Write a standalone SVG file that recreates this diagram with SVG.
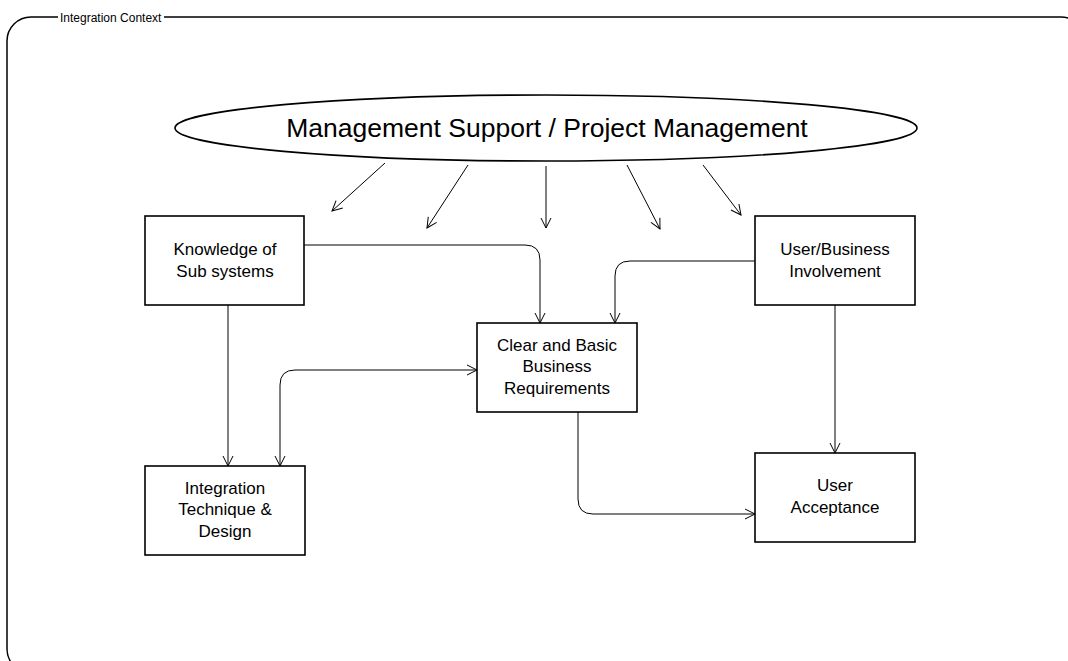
<svg xmlns="http://www.w3.org/2000/svg" width="1068" height="661" viewBox="0 0 1068 661">
<defs>
<marker id="arr" markerUnits="userSpaceOnUse" markerWidth="12" markerHeight="12" refX="10" refY="5" orient="auto-start-reverse" overflow="visible">
<path d="M0,0 L10,5 L0,10" fill="none" stroke="#000" stroke-width="1"/>
</marker>
</defs>
<style>
.box{fill:#fff;stroke:#000;stroke-width:1.6}
.t{font-family:"Liberation Sans",Arial,sans-serif;font-size:17px;fill:#000;text-anchor:middle}
.c{fill:none;stroke:#000;stroke-width:1}
</style>
<rect width="1068" height="661" fill="#fff"/>
<g id="frame">
<rect x="7" y="17" width="1078" height="656" rx="24" ry="24" fill="none" stroke="#000" stroke-width="1.5"/>
<rect x="58" y="8" width="106" height="18" fill="#fff"/>
<text x="60" y="21.5" style="font-family:'Liberation Sans',Arial,sans-serif;font-size:12px">Integration Context</text>
</g>
<g id="mgmt">
<ellipse cx="546" cy="128" rx="371" ry="33" class="box"/>
<text x="547" y="137" class="t" style="font-size:26.5px">Management Support / Project Management</text>
</g>
<g id="knowledge">
<rect x="145" y="216" width="159" height="89" class="box"/>
<text x="225" y="255" class="t">Knowledge of</text>
<text x="225" y="277" class="t">Sub systems</text>
</g>
<g id="userbiz">
<rect x="755" y="216" width="160" height="89" class="box"/>
<text x="835" y="255" class="t">User/Business</text>
<text x="835" y="277" class="t">Involvement</text>
</g>
<g id="clear">
<rect x="477" y="323" width="160" height="89" class="box"/>
<text x="557" y="351" class="t">Clear and Basic</text>
<text x="557" y="372" class="t">Business</text>
<text x="557" y="394" class="t">Requirements</text>
</g>
<g id="integration">
<rect x="145" y="466" width="160" height="89" class="box"/>
<text x="225" y="494" class="t">Integration</text>
<text x="225" y="515" class="t">Technique &amp;</text>
<text x="225" y="537" class="t">Design</text>
</g>
<g id="acceptance">
<rect x="755" y="453" width="160" height="89" class="box"/>
<text x="835" y="491" class="t">User</text>
<text x="835" y="513" class="t">Acceptance</text>
</g>
<g id="connectors">
<path class="c" marker-end="url(#arr)" d="M385,163 L332,211"/>
<path class="c" marker-end="url(#arr)" d="M468,165 L427,228"/>
<path class="c" marker-end="url(#arr)" d="M546,166 L546,228"/>
<path class="c" marker-end="url(#arr)" d="M627,165 L660,229"/>
<path class="c" marker-end="url(#arr)" d="M703,165 L741,215"/>
<path class="c" marker-end="url(#arr)" d="M304,245 L525,245 Q540,245 540,260 L540,323"/>
<path class="c" marker-end="url(#arr)" d="M755,261 L630,261 Q615,261 615,276 L615,323"/>
<path class="c" marker-end="url(#arr)" d="M228,305 L228,466"/>
<path class="c" marker-start="url(#arr)" marker-end="url(#arr)" d="M280,466 L280,385 Q280,370 295,370 L477,370"/>
<path class="c" marker-end="url(#arr)" d="M578,412 L578,499 Q578,514 593,514 L755,514"/>
<path class="c" marker-end="url(#arr)" d="M835,305 L835,453"/>
</g>
</svg>
